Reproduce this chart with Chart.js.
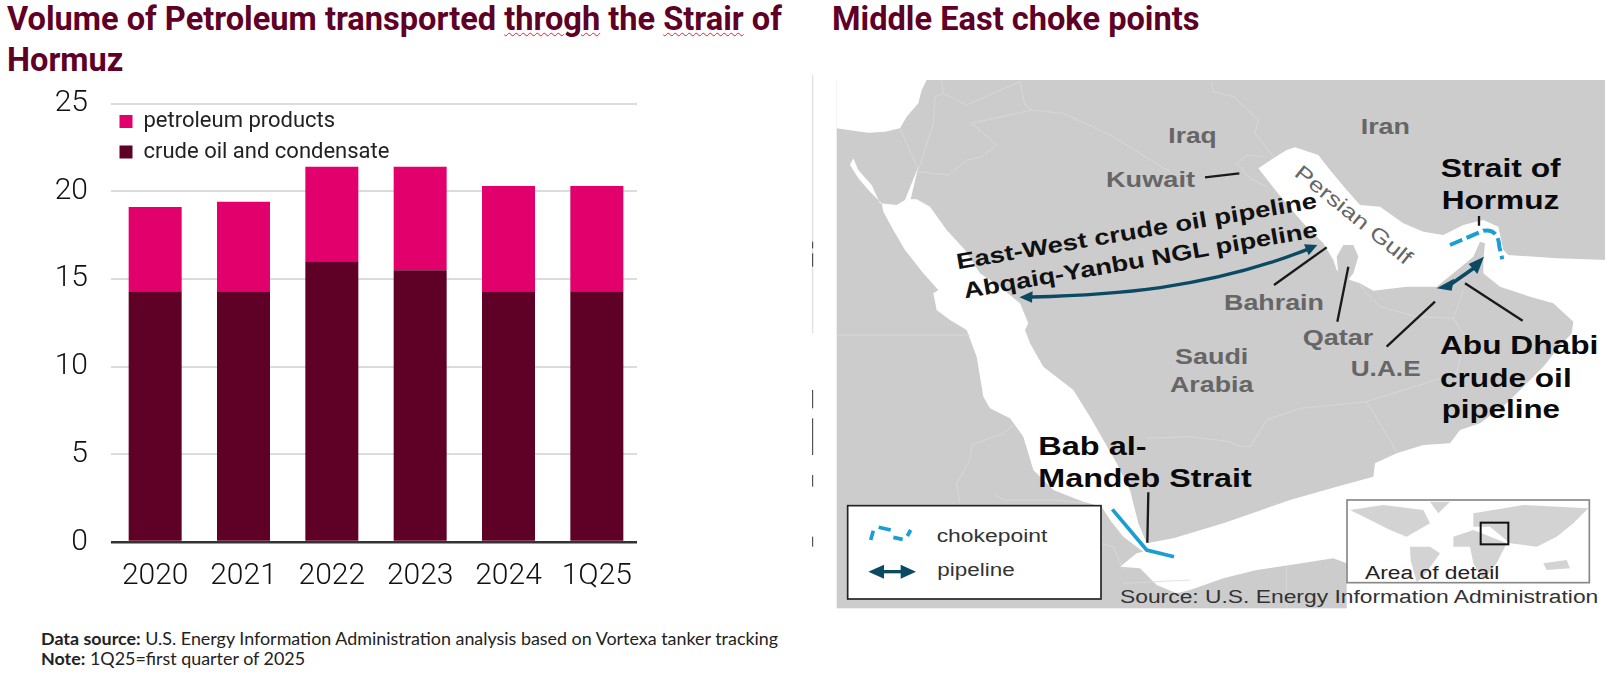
<!DOCTYPE html>
<html>
<head>
<meta charset="utf-8">
<script src="https://cdn.jsdelivr.net/npm/chart.js@4"></script>
<style>
  html, body { margin: 0; padding: 0; background: #fff; }
  body { width: 1608px; height: 680px; position: relative; overflow: hidden; }
  .titulo { position: absolute; color: #5f0027; font: 700 32.6px/41px Roboto, sans-serif; white-space: nowrap; }
  .typo { text-decoration: underline wavy #d9262b 1px; text-underline-offset: 2px; }
  #nota { position: absolute; left: 41px; top: 628px; color: #222; font: 400 17.9px/20px Lato, sans-serif; white-space: nowrap; }
  #caja { position: absolute; left: 0; top: 80px; width: 637px; height: 520px; overflow: hidden; }
  #mapa { position: absolute; left: 790px; top: 60px; width: 818px; height: 560px; }
  #mapa text { font-family: "Liberation Sans", Arial, sans-serif; }
  .pais { fill: #666; font-weight: 700; font-size: 64px; }
  .nom { fill: #0a0a0a; font-weight: 700; font-size: 78px; }
  .peq { fill: #111; font-weight: 700; font-size: 66px; }
  .guia { stroke: #1a1a1a; stroke-width: 7; fill: none; }
  .frontera { stroke: #dadada; stroke-width: 2.5; fill: none; }
</style>
</head>
<body>
<div class="titulo" style="left:7px;top:-1px">Volume of Petroleum transported <span class="typo">throgh</span> the <span class="typo">Strair</span> of<br>Hormuz</div>
<div class="titulo" style="left:832px;top:-1px">Middle East choke points</div>

<div id="caja"><canvas id="volumen" width="641" height="520"></canvas></div>

<div id="nota"><b>Data source:</b> U.S. Energy Information Administration analysis based on Vortexa tanker tracking<br><b>Note:</b> 1Q25=first quarter of 2025</div>

<!-- mapa: coordenadas en px de la imagen x3 -->
<svg id="mapa" viewBox="0 0 2454 1680">
  <path d="M68 45V820" stroke="#c4c4c4" stroke-width="2" fill="none"/>
  <path d="M68 545V565M68 580V620M68 990V1045M68 1075V1185M68 1245V1280M68 1430V1460" stroke="#333" stroke-width="3" fill="none"/>
  <rect x="140" y="60" width="2305" height="1585" fill="#cdcccd"/>
  <!-- Mediterraneo -->
  <path fill="#fff" d="M140 60H410L395 90L385 130L350 170L330 205L285 215L235 218L175 210L140 205Z"/>
  <!-- mar: Golfo de Oman, Persico, Arabigo, Adén, Rojo -->
  <path fill="#fff" d="M2454 600L2300 595L2155 585L2140 570L2125 500L2080 480L2020 495L1960 525L1900 515L1840 490L1770 440L1710 435L1670 390L1620 330L1585 285L1515 262L1490 270L1450 295L1405 325L1440 370L1480 420L1540 490L1600 550L1630 600L1640 630L1680 660L1710 670L1750 692L1850 680L1940 680L1990 640L2050 590L2070 545L2085 550L2080 600L2080 640L2130 680L2220 710L2290 730L2350 785L2345 820L2300 870L2260 920L2200 980L2150 1030L2070 1090L2010 1110L1980 1150L1900 1155L1820 1180L1755 1210L1750 1250L1640 1280L1500 1320L1400 1355L1300 1390L1200 1420L1150 1435L1070 1450L1045 1390L1020 1290L980 1210L900 1070L850 990L760 920L720 850L705 810L715 790L690 730L630 680L570 640L525 570L470 510L420 440L380 418L362 418L385 320L345 420L320 435L270 430L245 375L205 330L190 295L180 315L205 355L240 395L275 430L280 455L310 510L345 570L400 640L445 690L430 700L440 750L480 780L530 810L560 890L580 1010L600 1045L660 1075L700 1130L730 1230L790 1290L880 1325L935 1340L960 1380L1000 1430L1060 1475L1040 1480L990 1520L1050 1525L1100 1575L1160 1600L1200 1590L1300 1555L1400 1530L1500 1515L1630 1495L1670 1510V1680H2454Z"/>
  <path fill="#cdcccd" d="M1640 590L1660 555L1690 555L1705 590L1690 640L1670 665L1645 640Z"/>
  <!-- fronteras -->
  <path class="frontera" d="M455 60L460 100L530 135L690 65L705 135L725 150L820 160L960 225L1140 335"/>
  <path class="frontera" d="M725 150L545 190L620 255L575 290L530 300L475 345L385 335M330 205L385 330L430 190L435 110L460 100"/>
  <path class="frontera" d="M1265 65L1270 95L1330 110L1405 180L1395 220L1450 290M1340 310L1370 285L1420 290M1340 310L1380 355L1430 380"/>
  <path class="frontera" d="M1710 670L1720 690L1770 740L1880 770L1990 775L2020 690M1990 775L2025 830L2000 940L1730 1025L1530 1045L1430 1080L1380 1160L1350 1160L1320 1145L1200 1130L1070 1135M1730 1025L1820 1175"/>
  <path class="frontera" d="M140 825H540M670 1095L640 1120L545 1155L540 1200L500 1270L510 1330M610 1300L640 1320L800 1320L890 1330M930 1450L970 1460L1000 1530M1000 1570L1200 1560M1490 1520V1645"/>
  <!-- ductos -->
  <path d="M725 711C950 705 1250 690 1560 565" stroke="#0b4a63" stroke-width="10" fill="none"/>
  <path fill="#0b4a63" d="M688 712L728 694L726 728ZM1582 555L1542 553L1556 586Z"/>
  <path d="M1975 678L2055 622" stroke="#0b4a63" stroke-width="11"/>
  <path fill="#0b4a63" d="M1940 685L1992 656L1985 692ZM2082 590L2036 612L2062 642Z"/>
  <path d="M1980 555L2080 512Q2125 505 2128 560L2137 598" stroke="#1a9ed4" stroke-width="12" stroke-dasharray="40 14" fill="none"/>
  <path d="M967 1348L1070 1470L1152 1490" stroke="#1a9ed4" stroke-width="11" fill="none"/>
  <!-- guias -->
  <path class="guia" d="M1245 352L1348 340M1452 675L1610 562M1642 785L1675 620M1935 725L1790 860M2025 670L2198 782M2067 468V497M1075 1297L1072 1448"/>
  <!-- etiquetas -->
  <text class="pais" x="1135" y="248" textLength="145" lengthAdjust="spacingAndGlyphs">Iraq</text>
  <text class="pais" x="1712" y="222" textLength="148" lengthAdjust="spacingAndGlyphs">Iran</text>
  <text class="pais" x="948" y="380" textLength="267" lengthAdjust="spacingAndGlyphs">Kuwait</text>
  <text class="pais" x="1302" y="750" textLength="300" lengthAdjust="spacingAndGlyphs">Bahrain</text>
  <text class="pais" x="1538" y="855" textLength="212" lengthAdjust="spacingAndGlyphs">Qatar</text>
  <text class="pais" x="1682" y="948" textLength="210" lengthAdjust="spacingAndGlyphs">U.A.E</text>
  <text class="pais" x="1155" y="913" textLength="220" lengthAdjust="spacingAndGlyphs">Saudi</text>
  <text class="pais" x="1140" y="997" textLength="250" lengthAdjust="spacingAndGlyphs">Arabia</text>
  <text transform="translate(1510,345) rotate(39)" font-size="62" fill="#666" textLength="432" lengthAdjust="spacingAndGlyphs">Persian Gulf</text>
  <text class="peq" transform="translate(503,628) rotate(-9.7)" textLength="1096" lengthAdjust="spacingAndGlyphs">East-West crude oil pipeline</text>
  <text class="peq" transform="translate(525,715) rotate(-9.9)" textLength="1076" lengthAdjust="spacingAndGlyphs">Abqaiq-Yanbu NGL pipeline</text>
  <text class="nom" x="1952" y="350" textLength="360" lengthAdjust="spacingAndGlyphs">Strait of</text>
  <text class="nom" x="1955" y="448" textLength="353" lengthAdjust="spacingAndGlyphs">Hormuz</text>
  <text class="nom" x="1950" y="882" textLength="475" lengthAdjust="spacingAndGlyphs">Abu Dhabi</text>
  <text class="nom" x="1950" y="980" textLength="395" lengthAdjust="spacingAndGlyphs">crude oil</text>
  <text class="nom" x="1955" y="1075" textLength="355" lengthAdjust="spacingAndGlyphs">pipeline</text>
  <text class="nom" x="745" y="1185" font-size="84" textLength="325" lengthAdjust="spacingAndGlyphs">Bab al-</text>
  <text class="nom" x="745" y="1282" font-size="84" textLength="640" lengthAdjust="spacingAndGlyphs">Mandeb Strait</text>
  <!-- leyenda -->
  <rect x="173" y="1337" width="760" height="280" fill="#fff" stroke="#222" stroke-width="5"/>
  <path d="M242 1440L250 1412M266 1402L302 1410M310 1432L338 1438M352 1428L362 1410" stroke="#1a9ed4" stroke-width="11" fill="none"/>
  <path d="M265 1535H350" stroke="#0b4a63" stroke-width="10"/>
  <path fill="#0b4a63" d="M235 1535L282 1514V1556ZM378 1535L332 1514V1556Z"/>
  <text x="440" y="1445" font-size="54" fill="#333" textLength="332" lengthAdjust="spacingAndGlyphs">chokepoint</text>
  <text x="442" y="1548" font-size="54" fill="#333" textLength="232" lengthAdjust="spacingAndGlyphs">pipeline</text>
  <!-- recuadro mundo -->
  <rect x="1671" y="1320" width="727" height="248" fill="#fff" stroke="#888" stroke-width="5"/>
  <g fill="#d4d3d4">
    <path d="M1680 1350L1780 1335L1900 1350L1920 1390L1850 1430L1800 1410L1760 1390Z"/>
    <path d="M1920 1325H1980L1945 1360Z"/>
    <path d="M1860 1460L1920 1460L1950 1480L1900 1550L1880 1566L1862 1500Z"/>
    <path d="M2050 1360L2200 1335L2395 1345L2350 1390L2300 1430L2240 1460L2160 1450L2100 1400L2050 1400Z"/>
    <path d="M1990 1430L2050 1410L2150 1450L2120 1510L2080 1560L2050 1510L2040 1460L1990 1460Z"/>
    <path d="M2260 1510L2330 1500L2340 1525L2270 1530Z"/>
  </g>
  <rect x="2072" y="1388" width="83" height="65" fill="none" stroke="#111" stroke-width="6"/>
  <text x="1725" y="1558" font-size="54" fill="#222" textLength="403" lengthAdjust="spacingAndGlyphs">Area of detail</text>
  <text x="990" y="1630" font-size="54" fill="#333" textLength="1435" lengthAdjust="spacingAndGlyphs">Source: U.S. Energy Information Administration</text>
</svg>

<script>
const categorias = ["2020", "2021", "2022", "2023", "2024", "1Q25"];
const crudo = [14.3, 14.3, 16, 15.5, 14.3, 14.3];
const productos = [4.8, 5.1, 5.4, 5.9, 6, 6];
const etiquetas_series = ["crude oil and condensate", "petroleum products"];

// la leyenda va dentro del area, debajo de la linea de 25
const plugin_mover_leyenda = {
  id: "moverLeyenda",
  afterLayout: (chart) => {
    chart.legend.top = 22;
  },
};

const ctx = document.getElementById("volumen").getContext("2d");
const chart_volumen = new Chart(ctx, {
  type: "bar",
  data: {
    labels: categorias,
    datasets: [
      {
        label: etiquetas_series[0],
        data: crudo,
        backgroundColor: "#5f0027",
      },
      {
        label: etiquetas_series[1],
        data: productos,
        backgroundColor: "#e2006c",
      },
    ],
  },
  options: {
    responsive: false,
    animation: false,
    layout: { autoPadding: false, padding: { top: 23.5 } },
    datasets: { bar: { categoryPercentage: 0.6, barPercentage: 1 } },
    plugins: {
      title: { display: false },
      tooltip: { enabled: false },
      legend: {
        position: "chartArea",
        fullSize: false,
        align: "start",
        reverse: true,
        labels: {
          boxWidth: 13,
          boxHeight: 13,
          padding: 8.5,
          color: "#222",
          font: { family: "Roboto", size: 22 },
        },
      },
    },
    scales: {
      x: {
        stacked: true,
        afterFit: (scale) => { scale.height = 58; },
        grid: { display: false },
        border: { display: false },
        ticks: {
          color: "#111",
          padding: 8,
          maxRotation: 0,
          font: { family: "Roboto", size: 30, weight: "300" },
        },
      },
      y: {
        stacked: true,
        min: 0,
        max: 25,
        afterFit: (scale) => {
          scale.width = 111;
          // sin esto el padding de los ticks baja la linea de 25
          scale.paddingTop = 0;
          scale.paddingBottom = 0;
        },
        border: { display: false },
        grid: {
          drawTicks: false,
          lineWidth: (c) => (c.tick.value === 0 ? 2.5 : 2),
          color: (c) => (c.tick.value === 0 ? "#333" : "#dcdcdc"),
        },
        ticks: {
          stepSize: 5,
          color: "#111",
          padding: 23,
          font: { family: "Roboto", size: 30, weight: "300" },
        },
      },
    },
  },
  plugins: [plugin_mover_leyenda],
});
</script>
</body>
</html>
